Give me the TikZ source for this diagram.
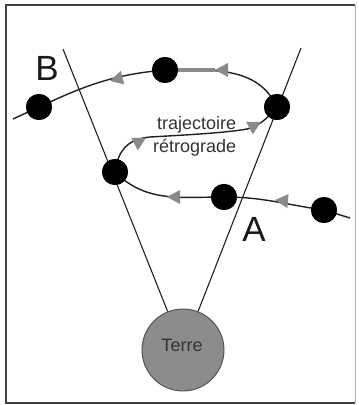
\documentclass[tikz,border=0pt]{standalone}
\usepackage{fontspec}
\setmainfont{Liberation Sans}
\usetikzlibrary{arrows.meta}
\definecolor{agray}{HTML}{8A8A8A}
\definecolor{egray}{HTML}{8C8C8C}
\definecolor{lineink}{HTML}{202020}
\newcommand{\garrow}[2]{\fill[agray, shift={#1}, rotate=#2] (0,0) -- (-13,7) -- (-13,-7) -- cycle;}
\begin{document}
\begin{tikzpicture}[x=1pt,y=1pt,
  dot/.style={circle, fill=black, minimum size=26pt, inner sep=0pt},
  earth/.style={circle, fill=egray, draw=black!70, line width=0.9pt, minimum size=82pt, inner sep=0pt},
  sight/.style={draw=lineink, line width=1.1pt},
  orbit/.style={draw=lineink, line width=1.4pt},
  shaft/.style={draw=agray, line width=3.2pt},
  small/.style={font=\fontsize{18}{18}\selectfont, text=black!80, inner sep=0pt},
  big/.style={font=\fontsize{35}{35}\selectfont, text=black!90, inner sep=0pt}]
\useasboundingbox (0,0) rectangle (359,405);
% frame
\draw[black!75, line width=1.6pt] (355,400) -- (6,400) -- (6,2) -- (355,2);
\draw[black!30, line width=1pt] (355,400) -- (355,2);
% nodes
\node[earth] (terre) at (183,55) {};
\coordinate (lt) at (63,356);
\coordinate (rt) at (301,357);
% sight lines
\draw[sight] (lt) -- (terre);
\draw[sight] (rt) -- (terre);
% planet positions
\coordinate (s) at (13,286);
\coordinate (e) at (350,187);
\coordinate (P1) at (150,268);
\coordinate (Q) at (247,276);
\node[dot] (B) at (39,298) {};
\node[dot] (T) at (165,335) {};
\node[dot] (R) at (277,298) {};
\node[dot] (L) at (115,233) {};
\node[dot] (M) at (224,208) {};
\node[dot] (F) at (324,195) {};
% trajectory
\draw[orbit] (e) -- (F.center) to[out=172,in=0] (M.center) to[out=180,in=-45] (L.center);
\draw[orbit] (L.center) .. controls (118,255) and (128,266) .. (P1)
  .. controls (185,270) and (225,272) .. (Q)
  .. controls (262,280) and (270,290) .. (R.center);
\draw[orbit] (R.center) to[out=115,in=0] (T.center) to[out=185,in=25] (B.center) -- (s);
% gray arrows
\coordinate (a1) at (275,205);
\coordinate (a2) at (167,208);
\coordinate (a3) at (146,267);
\coordinate (a4) at (261,283);
\coordinate (a5) at (215,335);
\coordinate (a6) at (110,324);
\draw[shaft] (T) -- (a5);
\garrow{(a1)}{175}
\garrow{(a2)}{180}
\garrow{(a3)}{28}
\garrow{(a4)}{28}
\garrow{(a5)}{180}
\garrow{(a6)}{195}
% dots on top
\foreach \n in {B,T,R,L,M,F} \fill[black] (\n) circle (13pt);
% labels
\node[small, anchor=base west] (traj) at (157,275) {trajectoire};
\node[small, anchor=base west] (retro) at (153,252) {rétrograde};
\node[small, anchor=base] (terrelbl) at (182,53) {Terre};
\node[big] (lblB) at (47,337) {B};
\node[big] (lblA) at (254,176) {A};
\end{tikzpicture}
\end{document}
